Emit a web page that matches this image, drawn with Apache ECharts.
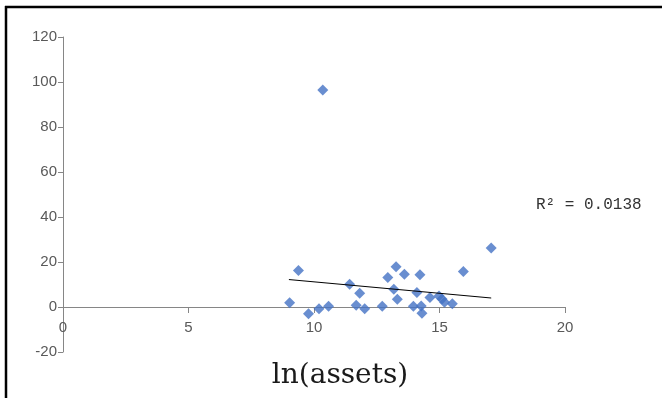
<!DOCTYPE html>
<html>
<head>
<meta charset="utf-8">
<script src="https://cdn.jsdelivr.net/npm/echarts@6/dist/echarts.min.js"></script>
<style>
  html, body { margin: 0; padding: 0; background: #fff; }
  #chart { width: 662px; height: 398px; }
</style>
</head>
<body>
<div id="chart"></div>
<script>
// ln(assets) vs value
const lnAssets = [9.03, 9.38, 9.78, 10.2, 10.58, 10.35, 11.42, 11.82, 11.68, 12.02,
  12.72, 12.94, 13.27, 13.18, 13.32, 13.6, 13.96, 14.1, 14.22, 14.27,
  14.3, 14.62, 14.98, 15.1, 15.2, 15.51, 15.95, 17.06]
const values = [1.9, 16.2, -3.0, -0.8, 0.3, 96.4, 10.1, 6.1, 0.8, -0.8,
  0.3, 13.1, 17.9, 7.9, 3.4, 14.6, 0.3, 6.4, 14.3, 0.4,
  -2.8, 4.2, 4.9, 3.6, 2.1, 1.5, 15.8, 26.2]

// linear trend line ends
const trendX = [9.0, 17.06]
const trendY = [12.2, 4.0]
const rSquared = '0.0138'

const xTicks = { min: 0, max: 20, interval: 5 }
const yTicks = { min: -20, max: 120, interval: 20 }

const chart = echarts.init(document.getElementById('chart'))

const axisColor = '#868686'
const labelColor = '#595959'

chart.setOption({
  animation: false,
  grid: { left: 63, right: 97, top: 37, bottom: 46 },
  xAxis: {
    type: 'value',
    ...xTicks,
    splitLine: { show: false },
    axisLine: { onZero: true, lineStyle: { color: axisColor } },
    axisTick: { length: 6, lineStyle: { color: axisColor } },
    // labels stay at grid bottom, pull them up next to the zero line
    axisLabel: { color: labelColor, fontSize: 15, margin: -32, fontFamily: 'Liberation Sans' },
  },
  yAxis: {
    type: 'value',
    ...yTicks,
    splitLine: { show: false },
    axisLine: { show: true, lineStyle: { color: axisColor } },
    axisTick: { show: true, length: 5, lineStyle: { color: axisColor } },
    axisLabel: { color: labelColor, fontSize: 15, margin: 6, fontFamily: 'Liberation Sans' },
  },
  graphic: [
    { type: 'line', shape: { x1: 5, y1: 7, x2: 662, y2: 7 }, style: { stroke: '#000', lineWidth: 2.5 } },
    { type: 'line', shape: { x1: 6, y1: 6, x2: 6, y2: 398 }, style: { stroke: '#000', lineWidth: 2.5 } },
    {
      type: 'text', x: 340, y: 376,
      style: { text: 'ln(assets)', font: '28px "DejaVu Serif"', fill: '#1a1a1a', textAlign: 'center', textVerticalAlign: 'middle' },
    },
    {
      type: 'text', x: 536, y: 205,
      style: { text: 'R² = ' + rSquared, font: '16px "Liberation Mono"', fill: '#333', textVerticalAlign: 'middle' },
    },
  ],
  series: [
    {
      type: 'scatter',
      symbol: 'diamond',
      symbolSize: [11, 11],
      itemStyle: { color: '#4472C4' },
      data: lnAssets.map((x, i) => [x, values[i]]),
    },
    {
      type: 'line',
      showSymbol: false,
      lineStyle: { color: '#000', width: 1 },
      data: trendX.map((x, i) => [x, trendY[i]]),
    },
  ],
})
</script>
</body>
</html>
